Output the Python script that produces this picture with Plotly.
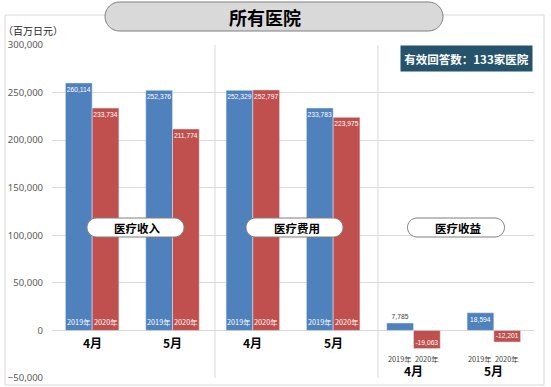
import math
import plotly.graph_objects as go

# ---------------- data ----------------
categories = ["医疗收入-4月", "医疗收入-5月", "医疗费用-4月", "医疗费用-5月", "医疗收益-4月", "医疗收益-5月"]
month_labels = ["4月", "5月", "4月", "5月", "4月", "5月"]
group_labels = ["医疗收入", "医疗费用", "医疗收益"]
series_names = ["2019年", "2020年"]
values_2019 = [260114, 252376, 252329, 233783, 7785, 18594]
values_2020 = [233734, 211774, 252797, 223975, -19063, -12201]
y_ticks = [-50000, 0, 50000, 100000, 150000, 200000, 250000, 300000]
title_text = "所有医院"
unit_text = "（百万日元）"
note_text = "有效回答数：133家医院"

# ---------------- layout helpers ----------------
W, H = 551, 387
L, R, T, B = 52, 17, 45, 9
PW, PH = W - L - R, H - T - B
FONT = "Noto Sans CJK SC, Noto Sans, sans-serif"
NUMFONT = "Liberation Sans, Arial, sans-serif"
NUMSIZE = 6.7
BLUE, RED = "#4f81bd", "#c0504d"


def pxx(x):
    return (x - L) / PW


def pxy(y):
    return (H - B - y) / PH


def capsule(x0, y0, x1, y1):
    r = (y1 - y0) / 2
    cy = (y0 + y1) / 2
    pts = []
    n = 16
    for i in range(n + 1):  # right arc, top -> bottom
        a = -math.pi / 2 + math.pi * i / n
        pts.append((x1 - r + r * math.cos(a), cy + r * math.sin(a)))
    for i in range(n + 1):  # left arc, bottom -> top
        a = math.pi / 2 + math.pi * i / n
        pts.append((x0 + r + r * math.cos(a), cy + r * math.sin(a)))
    return "M " + " L ".join(f"{pxx(a):.5f},{pxy(b):.5f}" for a, b in pts) + " Z"


fig = go.Figure()
fig.add_trace(go.Bar(
    x=categories, y=values_2019, name=series_names[0], marker_color=BLUE,
    text=[f"{v:,}" for v in values_2019],
    textposition=["inside", "inside", "inside", "inside", "outside", "inside"],
    insidetextanchor="end", textangle=0,
    insidetextfont=dict(color="white", size=NUMSIZE, family=NUMFONT),
    outsidetextfont=dict(color="#404040", size=NUMSIZE, family=NUMFONT),
    cliponaxis=False,
))
fig.add_trace(go.Bar(
    x=categories, y=values_2020, name=series_names[1], marker_color=RED,
    text=[f"{v:,}" for v in values_2020],
    textposition="inside",
    insidetextanchor="end", textangle=0,
    insidetextfont=dict(color="white", size=NUMSIZE, family=NUMFONT),
    outsidetextfont=dict(color="#404040", size=NUMSIZE, family=NUMFONT),
    cliponaxis=False,
))

shapes = []
annotations = []

# outer frame
shapes.append(dict(type="rect", xref="paper", yref="paper", x0=pxx(5), x1=pxx(544), y0=pxy(385), y1=pxy(15),
                   line=dict(color="#d9d9d9", width=1), layer="below"))
# separators
for sx in (215, 378):
    shapes.append(dict(type="line", xref="paper", yref="paper", x0=pxx(sx), x1=pxx(sx), y0=0, y1=1,
                       line=dict(color="#d9d9d9", width=1), layer="below"))
# title capsule
shapes.append(dict(type="path", xref="paper", yref="paper", path=capsule(105, 2, 443, 31),
                   fillcolor="#d9d9d9", line=dict(color="#7f7f7f", width=1), layer="above"))
annotations.append(dict(xref="paper", yref="paper", x=pxx(265), y=pxy(17), xanchor="center", yanchor="middle",
                        text=f"<b>{title_text}</b>", showarrow=False,
                        font=dict(size=18, color="black", family=FONT)))
# unit
annotations.append(dict(xref="paper", yref="paper", x=pxx(1), y=pxy(30), xanchor="left", yanchor="middle",
                        text=unit_text, showarrow=False, font=dict(size=10, color="#262626", family=FONT)))
# note box
annotations.append(dict(xref="paper", yref="paper", x=pxx(533), y=pxy(45), xanchor="right", yanchor="top",
                        text=f"<b>{note_text}</b>", showarrow=False, bgcolor="#24536b", width=127, height=21,
                        borderpad=2, font=dict(size=11.5, color="white", family=FONT)))

# group label capsules
for (cx, label) in zip((135.5, 294.5, 456), group_labels):
    shapes.append(dict(type="path", xref="paper", yref="paper", path=capsule(cx - 48.5, 218, cx + 48.5, 237),
                       fillcolor="white", line=dict(color="#7f7f7f", width=1), layer="above"))
    annotations.append(dict(xref="paper", yref="paper", x=pxx(cx + 2), y=pxy(227.5), xanchor="center",
                            yanchor="middle", text=f"<b>{label}</b>", showarrow=False,
                            font=dict(size=11.5, color="black", family=FONT)))

# month and year labels
for i, (cat, m) in enumerate(zip(categories, month_labels)):
    last = i >= 4
    annotations.append(dict(x=cat, y=0, xref="x", yref="y", text=f"<b>{m}</b>", showarrow=False,
                            xanchor="center", yanchor="middle", yshift=-40.5 if last else -12.5,
                            font=dict(size=12, color="black", family=FONT)))
    for k, s in enumerate(series_names):
        annotations.append(dict(x=cat, y=0, xref="x", yref="y", text=s, showarrow=False,
                                xshift=-13.4 if k == 0 else 13.4, xanchor="center",
                                yanchor="middle", yshift=-28.5 if last else 8,
                                font=dict(size=7.3, color="#404040" if last else "white", family=FONT)))

fig.update_layout(
    width=W, height=H, margin=dict(l=L, r=R, t=T, b=B, autoexpand=False),
    paper_bgcolor="white", plot_bgcolor="white",
    barmode="group", bargap=0.334, bargroupgap=0,
    uniformtext=dict(minsize=NUMSIZE, mode="show"),
    showlegend=False,
    shapes=shapes, annotations=annotations,
    font=dict(family=FONT),
    xaxis=dict(type="category", range=[-0.5, 5.5], showticklabels=False, showgrid=False,
               zeroline=False, showline=False, ticks="", automargin=False),
    yaxis=dict(range=[-50000, 300000], tickvals=y_ticks, tickformat=",", showgrid=True,
               gridcolor="#d9d9d9", gridwidth=1, zeroline=True, zerolinecolor="#d9d9d9", zerolinewidth=1,
               showline=False, ticks="", ticklabelstandoff=8, automargin=False,
               tickfont=dict(size=9.5, color="#595959", family="Noto Sans, sans-serif")),
)

fig.write_html("out.html", config={"displayModeBar": False},
               post_script="document.body.style.margin='0';")
